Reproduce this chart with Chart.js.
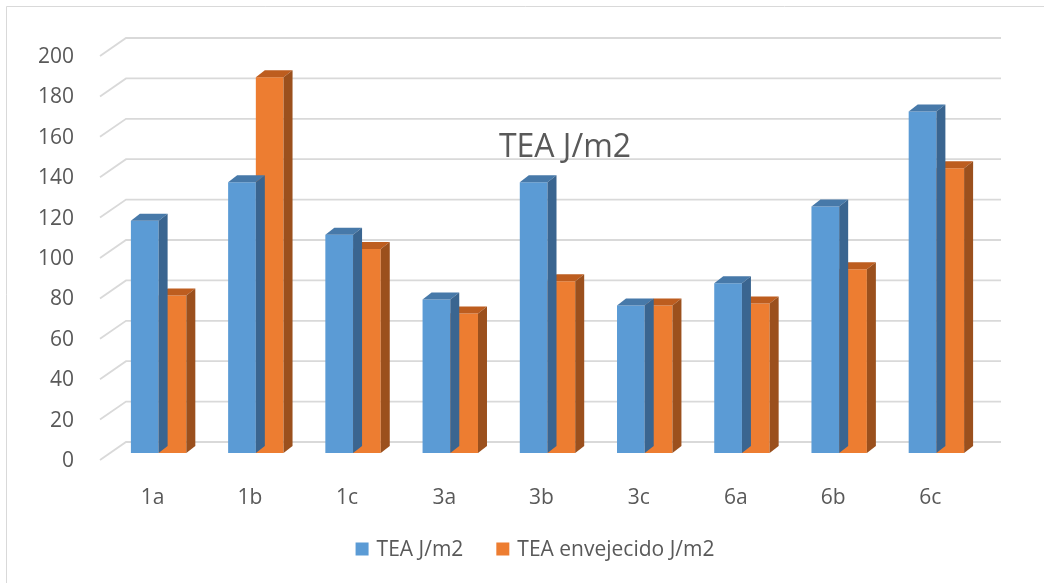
<!DOCTYPE html>
<html lang="es">
<head>
  <meta charset="UTF-8" />
  <title>TEA J/m2</title>
  <script src="https://cdn.jsdelivr.net/npm/chart.js"></script>
  <style>
    body {
      margin: 0;
      padding: 0;
      background: #fff;
    }
    canvas {
      display: block;
    }
  </style>
</head>
<body>
  <canvas id="graficoTEA" width="1044" height="583"></canvas>

  <script>
    const categorias = ["1a", "1b", "1c", "3a", "3b", "3c", "6a", "6b", "6c"];
    const teaValores = [115, 134, 108, 76, 134, 73, 84, 122, 169];
    const envejecidoValores = [78, 186, 101, 69, 85, 73, 74, 91, 141];
    const nombresSeries = ["TEA J/m2", "TEA envejecido J/m2"];
    const tituloGrafico = "TEA J/m2";

    const colorTexto = "#595959";
    const fuente = '"Open Sans", sans-serif';

    // colores frente / tapa / lado de cada serie
    const caras = [
      { frente: "#5b9bd5", tapa: "#4779a9", lado: "#3a6590" },
      { frente: "#ed7d31", tapa: "#bd5d1f", lado: "#9b501d" }
    ];

    const PROF_X = 9, PROF_Y = 7;      // profundidad de cada barra
    const FONDO_X = 16, FONDO_Y = -11; // pared del fondo
    const FRENTE_X = -10, FRENTE_Y = 7; // borde delantero del suelo

    const grafico3D = {
      id: 'grafico3D',
      beforeDraw(chart) {
        const ctx = chart.ctx;
        ctx.save();
        ctx.fillStyle = "#fff";
        ctx.fillRect(0, 0, chart.width, chart.height);
        // borde del area del grafico
        ctx.strokeStyle = "#d9d9d9";
        ctx.lineWidth = 1;
        ctx.beginPath();
        ctx.moveTo(6.5, chart.height);
        ctx.lineTo(6.5, 6.5);
        ctx.lineTo(chart.width, 6.5);
        ctx.stroke();
        ctx.restore();
      },
      beforeDatasetsDraw(chart) {
        const ctx = chart.ctx;
        const area = chart.chartArea;
        const y = chart.scales.y;
        ctx.save();
        ctx.strokeStyle = "#d9d9d9";
        ctx.lineWidth = 1.8;
        y.ticks.forEach(t => {
          const py = y.getPixelForValue(t.value);
          ctx.beginPath();
          ctx.moveTo(area.left + FRENTE_X, py + FRENTE_Y);
          ctx.lineTo(area.left + FONDO_X, py + FONDO_Y);
          ctx.lineTo(area.right + FONDO_X, py + FONDO_Y);
          ctx.stroke();
        });
        ctx.restore();
      },
      afterDatasetDraw(chart, args) {
        const ctx = chart.ctx;
        const c = caras[args.index];
        ctx.save();
        args.meta.data.forEach(bar => {
          const x0 = bar.x - bar.width / 2;
          const x1 = bar.x + bar.width / 2;
          const yt = bar.y;
          const yb = bar.base;
          ctx.fillStyle = c.tapa;
          ctx.beginPath();
          ctx.moveTo(x0, yt);
          ctx.lineTo(x1, yt);
          ctx.lineTo(x1 + PROF_X, yt - PROF_Y);
          ctx.lineTo(x0 + PROF_X, yt - PROF_Y);
          ctx.closePath();
          ctx.fill();
          ctx.fillStyle = c.lado;
          ctx.beginPath();
          ctx.moveTo(x1, yt);
          ctx.lineTo(x1 + PROF_X, yt - PROF_Y);
          ctx.lineTo(x1 + PROF_X, yb - PROF_Y);
          ctx.lineTo(x1, yb);
          ctx.closePath();
          ctx.fill();
        });
        ctx.restore();
      },
      afterDraw(chart) {
        const ctx = chart.ctx;
        ctx.save();
        // titulo
        ctx.fillStyle = colorTexto;
        ctx.textAlign = 'center';
        ctx.textBaseline = 'alphabetic';
        ctx.font = '32px ' + fuente;
        ctx.fillText(tituloGrafico, 565, 157);

        // leyenda
        ctx.font = '21px ' + fuente;
        ctx.textAlign = 'left';
        ctx.textBaseline = 'middle';
        const caja = 13, hueco = 8, sep = 33;
        const anchos = nombresSeries.map(n => caja + hueco + ctx.measureText(n).width);
        const total = anchos.reduce((a, b) => a + b, 0) + sep * (anchos.length - 1);
        let x = 535 - total / 2;
        const yl = 549;
        nombresSeries.forEach((n, i) => {
          ctx.fillStyle = caras[i].frente;
          ctx.fillRect(x, yl - caja / 2, caja, caja);
          ctx.fillStyle = colorTexto;
          ctx.fillText(n, x + caja + hueco, yl + 1);
          x += anchos[i] + sep;
        });
        ctx.restore();
      }
    };

    new Chart(document.getElementById("graficoTEA"), {
      type: "bar",
      data: {
        labels: categorias,
        datasets: [
          { label: nombresSeries[0], data: teaValores, backgroundColor: caras[0].frente },
          { label: nombresSeries[1], data: envejecidoValores, backgroundColor: caras[1].frente }
        ]
      },
      options: {
        responsive: false,
        animation: false,
        devicePixelRatio: 1,
        layout: {
          padding: { top: 49, right: 59, left: 0, bottom: 0 }
        },
        datasets: {
          bar: {
            categoryPercentage: 0.57,
            barPercentage: 1,
            borderWidth: 0
          }
        },
        scales: {
          x: {
            grid: { display: false },
            border: { display: false },
            ticks: {
              color: colorTexto,
              font: { family: fuente, size: 21 },
              padding: 24,
              labelOffset: -6,
              maxRotation: 0
            },
            afterFit(scale) { scale.height = 130; }
          },
          y: {
            min: 0,
            max: 200,
            grid: { display: false },
            border: { display: false },
            ticks: {
              stepSize: 20,
              color: colorTexto,
              font: { family: fuente, size: 21 },
              padding: 28,
              labelOffset: 8
            },
            afterFit(scale) { scale.width = 110; }
          }
        },
        plugins: {
          legend: { display: false },
          tooltip: { enabled: false }
        }
      },
      plugins: [grafico3D]
    });
  </script>
</body>
</html>
